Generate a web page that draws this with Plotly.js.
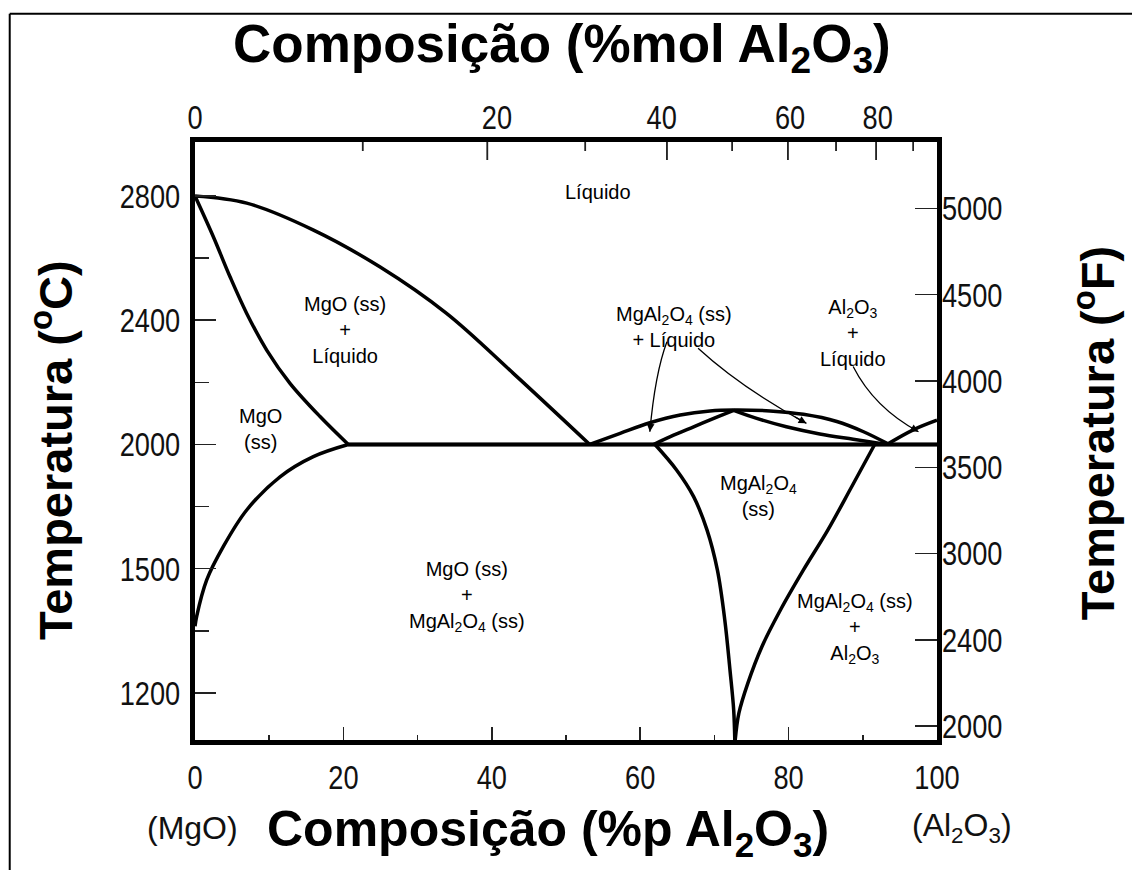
<!DOCTYPE html>
<html><head><meta charset="utf-8">
<script src="https://cdn.plot.ly/plotly-3.0.1.min.js"></script>
<style>html,body{margin:0;padding:0;background:#fff;} #chart{width:1132px;height:870px;position:relative;}</style>
</head><body><div id="chart"></div>
<script>
// ---- Data (wt% Al2O3, temperature °C) ----
const liqMgO_x = [0, 6.97, 15.9, 24.9, 33.9, 42.9, 53.2];
const liqMgO_T = [2800, 2777, 2691, 2572, 2422, 2229, 2000];
const solMgO_x = [0, 2.47, 4.72, 6.97, 9.66, 12.8, 16.85, 20.66];
const solMgO_T = [2800, 2669, 2540, 2422, 2304, 2197, 2090, 2000];
const solvMgO_x = [20.66, 15.95, 11.46, 6.97, 3.81, 1.58, 0.22, 0];
const solvMgO_T = [2000, 1961, 1896, 1789, 1671, 1564, 1446, 1415];
const eut_x = [20.66, 100];
const eut_T = [2000, 2000];
const liqSp_x = [53.2, 57.3, 61.3, 65.4, 69.4, 72.6, 77.5, 82, 86.5, 90.1, 93.4];
const liqSp_T = [2000, 2036, 2070, 2095, 2108, 2111, 2108, 2097, 2074, 2041, 2002];
const solSpL_x = [61.8, 64.5, 67.2, 70, 72.6];
const solSpL_T = [2000, 2030, 2057, 2085, 2110];
const solSpR_x = [72.6, 75.7, 79.7, 84.2, 88.7, 92.8];
const solSpR_T = [2110, 2084, 2057, 2034, 2017, 2002];
const liqAl_x = [93.4, 96.8, 100];
const liqAl_T = [2002, 2047, 2078];
const solvSpL_x = [62, 64.9, 67.2, 69, 70.4, 71.4, 72.1, 72.6, 72.75];
const solvSpL_T = [2000, 1918, 1832, 1725, 1596, 1435, 1274, 1145, 1048];
const solvSpR_x = [91.6, 88.5, 85.3, 82.0, 78.9, 76.4, 74.5, 73.3, 72.8];
const solvSpR_T = [2000, 1864, 1725, 1596, 1467, 1349, 1231, 1135, 1048];

// ---- Axis ticks ----
const xTicks = [0, 20, 40, 60, 80, 100];
const xMinor = [10, 30, 50, 70, 90];
const molTickPos = [39.4, 63.6, 79.9, 91.8];          // wt% positions of 20,40,60,80 mol%
const molMinorPos = [22.6, 52.6, 72.4, 86.4, 96.8];   // wt% positions of 10,30,50,70,90 mol%
const molLabelPos = [0, 40.7, 62.9, 80.2, 92.0];
const molLabels = ['0', '20', '40', '60', '80'];
const cTickVals = [1200, 1600, 2000, 2400, 2800];
const cTickText = ['1200', '1500', '2000', '2400', '2800'];
const cMinor = [1400, 1800, 2200, 2600];
const fTickVals = [2000, 2500, 3000, 3500, 4000, 4500, 5000];
const fTickText = ['2000', '2400', '3000', '3500', '4000', '4500', '5000'];

// ---- Region labels ----
const regionLabels = [
  {t: 'Líquido', x: 54.3, y: 2813},
  {t: 'MgO (ss)<br>+<br>Líquido', x: 20.2, y: 2369},
  {t: 'MgO<br>(ss)', x: 8.8, y: 2050},
  {t: 'MgAl<sub>2</sub>O<sub>4</sub> (ss)<br>+ Líquido', x: 64.5, y: 2378},
  {t: 'Al<sub>2</sub>O<sub>3</sub><br>+<br>Líquido', x: 88.7, y: 2359},
  {t: 'MgAl<sub>2</sub>O<sub>4</sub><br>(ss)', x: 75.9, y: 1834},
  {t: 'MgO (ss)<br>+<br>MgAl<sub>2</sub>O<sub>4</sub> (ss)', x: 36.7, y: 1512},
  {t: 'MgAl<sub>2</sub>O<sub>4</sub> (ss)<br>+<br>Al<sub>2</sub>O<sub>3</sub>', x: 88.9, y: 1409}
];
// arrows: tail, control, head (data coords)
const arrows = [
  {x0: 63.6, y0: 2331, cx: 62.0, cy: 2229, x1: 61.3, y1: 2041},
  {x0: 67.8, y0: 2310, cx: 73.6, cy: 2183, x1: 82.4, y1: 2068},
  {x0: 88.7, y0: 2251, cx: 91.5, cy: 2119, x1: 97.5, y1: 2041}
];

const Tlo = 1048.5, Thi = 2973.9;
const c2f = c => c * 1.8 + 32;
const plotH = 870 - 142 - 130;

const curves = [
  [liqMgO_x, liqMgO_T], [solMgO_x, solMgO_T], [solvMgO_x, solvMgO_T],
  [eut_x, eut_T], [liqSp_x, liqSp_T], [solSpL_x, solSpL_T], [solSpR_x, solSpR_T],
  [liqAl_x, liqAl_T], [solvSpL_x, solvSpL_T], [solvSpR_x, solvSpR_T]
];
const traces = curves.map(([xs, ys]) => ({
  type: 'scatter', mode: 'lines', x: xs, y: ys, xaxis: 'x', yaxis: 'y',
  line: {color: '#000', width: 3.5, shape: xs.length > 2 ? 'spline' : 'linear', smoothing: 1},
  hoverinfo: 'skip', showlegend: false
}));
// the eutectic line is also attached to the secondary axes so they get drawn
traces.push({type: 'scatter', mode: 'lines', x: eut_x, y: eut_T, xaxis: 'x2', yaxis: 'y',
  line: {color: '#000', width: 3.5}, hoverinfo: 'skip', showlegend: false});
traces.push({type: 'scatter', mode: 'lines', x: eut_x, y: eut_T.map(c2f), xaxis: 'x', yaxis: 'y2',
  line: {color: '#000', width: 3.5}, hoverinfo: 'skip', showlegend: false});

const FAM = 'Liberation Sans, Arial, sans-serif';
const tickFont = {family: FAM, size: 34, color: '#111'};
const titleFontTop = {family: FAM, size: 53, color: '#000', weight: 'bold'};
const titleFont = {family: FAM, size: 50, color: '#000', weight: 'bold'};
const sideFont = {family: FAM, size: 47, color: '#000', weight: 'bold'};
const labFont = {family: FAM, size: 20, color: '#000'};
const endFont = {family: FAM, size: 32, color: '#111'};

const annotations = [];
regionLabels.forEach(r => annotations.push({
  text: r.t, x: r.x, y: r.y, xref: 'x', yref: 'y', showarrow: false, font: labFont, align: 'center'
}));
arrows.forEach(a => {
  const t = 0.9;
  const hx = 2*(1-t)*t*a.cx + t*t*a.x1 + (1-t)*(1-t)*a.x0;
  const hy = 2*(1-t)*t*a.cy + t*t*a.y1 + (1-t)*(1-t)*a.y0;
  annotations.push({x: a.x1, y: a.y1, xref: 'x', yref: 'y', ax: hx, ay: hy, axref: 'x', ayref: 'y',
    text: '', showarrow: true, arrowhead: 2, arrowsize: 1.2, arrowwidth: 1.3, arrowcolor: '#000', standoff: 0});
});
annotations.push({text: '<b>Composição (%mol Al<sub>2</sub>O<sub>3</sub>)</b>', xref: 'paper', yref: 'paper',
  x: 0.4946, y: 1.158, showarrow: false, font: titleFontTop, xanchor: 'center', yanchor: 'middle'});
annotations.push({text: '<b>Composição (%p Al<sub>2</sub>O<sub>3</sub>)</b>', xref: 'paper', yref: 'paper',
  x: 0.4757, y: -0.154, showarrow: false, font: titleFont, xanchor: 'center', yanchor: 'middle'});
annotations.push({text: '(MgO)', xref: 'paper', yref: 'paper', x: -0.003, y: -0.147,
  showarrow: false, font: endFont, xanchor: 'center', yanchor: 'middle'});
annotations.push({text: '(Al<sub>2</sub>O<sub>3</sub>)', xref: 'paper', yref: 'paper', x: 1.034, y: -0.147,
  showarrow: false, font: endFont, xanchor: 'center', yanchor: 'middle'});
annotations.push({text: '<b>Temperatura (<sup>o</sup>C)</b>', xref: 'paper', yref: 'paper', x: -0.1927, y: 0.485,
  showarrow: false, font: sideFont, textangle: -90, xanchor: 'center', yanchor: 'middle'});
annotations.push({text: '<b>Temperatura (<sup>o</sup>F)</b>', xref: 'paper', yref: 'paper', x: 1.2129, y: 0.513,
  showarrow: false, font: sideFont, textangle: -90, xanchor: 'center', yanchor: 'middle'});

const shapes = arrows.map(a => ({
  type: 'path', xref: 'x', yref: 'y',
  path: `M ${a.x0},${a.y0} Q ${a.cx},${a.cy} ${a.x1},${a.y1}`,
  line: {color: '#000', width: 1.3}
}));
// mol% tick marks hanging from the top edge
const molMarks = [[molTickPos, 18], [molMinorPos, 9]];
molMarks.forEach(([pos, len]) => pos.forEach(p => shapes.push({
  type: 'line', xref: 'x', yref: 'paper', layer: 'above', x0: p, x1: p, y0: 1, y1: 1 - len / plotH,
  line: {color: '#222', width: 1.5}
})));
// page frame (left and top edge)
shapes.push({type: 'line', xref: 'paper', yref: 'paper', x0: -0.2497, x1: -0.2497, y0: -0.3, y1: 1.2145, line: {color: '#000', width: 2}});
shapes.push({type: 'line', xref: 'paper', yref: 'paper', x0: -0.2497, x1: 1.4, y0: 1.2145, y1: 1.2145, line: {color: '#000', width: 2}});

const tk = {ticks: 'inside', tickwidth: 1.5, tickcolor: '#222'};
const layout = {
  width: 1132, height: 870,
  margin: {l: 195, r: 195, t: 142, b: 130, pad: 0},
  paper_bgcolor: '#fff', plot_bgcolor: '#fff',
  showlegend: false,
  xaxis: Object.assign({range: [0, 100], showgrid: false, zeroline: false, showline: true, linewidth: 5, linecolor: '#000', mirror: true,
    tickvals: xTicks, ticktext: xTicks.map(String), ticklen: 13,
    minor: Object.assign({tickvals: xMinor, ticklen: 5}, tk),
    tickfont: tickFont, ticklabelstandoff: 3, anchor: 'y'}, tk),
  xaxis2: {range: [0, 100], overlaying: 'x', side: 'top', anchor: 'y', showline: false, showgrid: false, zeroline: false,
    tickvals: molLabelPos, ticktext: molLabels, ticks: '', tickfont: tickFont, ticklabelstandoff: 5},
  yaxis: Object.assign({range: [Tlo, Thi], showgrid: false, zeroline: false, showline: true, linewidth: 5, linecolor: '#000', mirror: true,
    tickvals: cTickVals, ticktext: cTickText, ticklen: 21,
    minor: Object.assign({tickvals: cMinor, ticklen: 14}, tk),
    tickfont: tickFont, ticklabelstandoff: 3, anchor: 'x'}, tk),
  yaxis2: Object.assign({range: [c2f(Tlo), c2f(Thi)], overlaying: 'y', side: 'right', anchor: 'x', showgrid: false, zeroline: false, showline: false,
    tickvals: fTickVals, ticktext: fTickText, ticklen: 22,
    tickfont: tickFont, ticklabelstandoff: 4}, tk),
  annotations: annotations,
  shapes: shapes
};

// narrow the tick-label glyphs horizontally about their anchor (reference uses a condensed face)
function condense(nodes, s) {
  nodes.forEach(t => {
    const x = parseFloat(t.getAttribute('x')) || 0, y = parseFloat(t.getAttribute('y')) || 0;
    const prev = t.getAttribute('transform') || '';
    t.setAttribute('transform', `${prev} translate(${x},${y}) scale(${s},1) translate(${-x},${-y})`);
  });
}
Plotly.newPlot('chart', traces, layout, {staticPlot: true, displayModeBar: false}).then(gd => {
  condense(gd.querySelectorAll('.xtick text, .ytick text, .x2tick text, .y2tick text'), 0.8);
  // also place the mol% tick marks in the topmost svg layer, positioned with the x axis scale
  const xa = gd._fullLayout.xaxis, ya = gd._fullLayout.yaxis;
  const svgs = gd.querySelectorAll('svg.main-svg');
  const top = svgs[svgs.length - 1];
  const NS = 'http://www.w3.org/2000/svg';
  const g = document.createElementNS(NS, 'g');
  molMarks.forEach(([pos, len]) => pos.forEach(p => {
    const px = xa._offset + xa.l2p(p);
    const ln = document.createElementNS(NS, 'line');
    ln.setAttribute('x1', px); ln.setAttribute('x2', px);
    ln.setAttribute('y1', ya._offset); ln.setAttribute('y2', ya._offset + len);
    ln.setAttribute('stroke', '#222'); ln.setAttribute('stroke-width', '1.5');
    g.appendChild(ln);
  }));
  top.appendChild(g);
});
</script></body></html>
